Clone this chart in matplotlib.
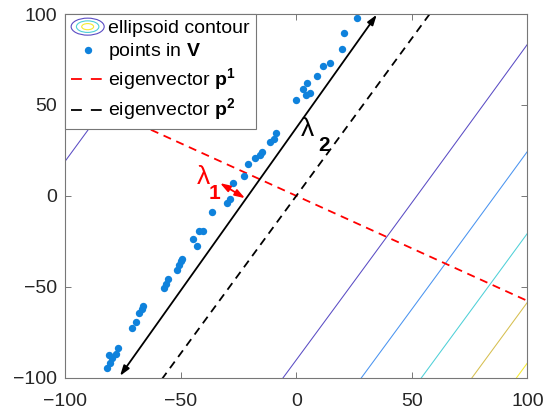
import numpy as np
import matplotlib
matplotlib.use('Agg')
import matplotlib.pyplot as plt
from matplotlib.patches import Ellipse
from matplotlib.legend_handler import HandlerBase
from matplotlib.lines import Line2D

plt.rcParams['font.family'] = ['Liberation Sans', 'DejaVu Sans']
plt.rcParams['mathtext.fontset'] = 'custom'
plt.rcParams['mathtext.rm'] = 'Liberation Sans'
plt.rcParams['mathtext.bf'] = 'Liberation Sans:bold'

# points in V
px = [-82.1, -80.6, -79.8, -81.1, -78.2, -77.1, -71.3, -69.5, -68.0, -66.9,
      -66.4, -57.3, -56.4, -55.4, -51.8, -50.9, -50.1, -49.3, -44.6, -42.9,
      -42.1, -40.3, -36.7, -30.1, -28.7, -27.3, -22.5, -21.1, -17.7, -15.7,
      -14.8, -11.2, -9.7, -8.8, -0.1, 2.9, 4.0, 4.8, 5.9, 8.8,
      11.7, 14.6, 19.6, 20.6, 26.4]
py = [-94.8, -91.9, -89.4, -87.5, -86.9, -83.8, -72.5, -69.2, -64.2, -62.2,
      -60.5, -50.6, -48.4, -45.9, -40.7, -38.0, -36.0, -34.7, -23.9, -27.6,
      -19.3, -19.5, -9.0, -4.1, -2.0, 6.9, 10.9, 17.4, 20.8, 22.5,
      23.9, 29.6, 31.3, 34.3, 52.7, 58.5, 55.5, 61.8, 56.6, 65.9,
      71.3, 73.2, 80.6, 89.7, 97.7]

# eigen directions (degrees) and ellipsoid parameters
theta_p1 = -30.0
theta_p2 = 60.0
ell_center_p1 = -25.5     # center along p1
ell_axis_p1 = 70.7        # semi-axis along p1 at level 1
ell_axis_p2 = 1500.0      # semi-axis along p2 at level 1
levels = [1, 2, 3, 4, 5]
level_colors = ['#5a4cc4', '#4a94f0', '#4fd0d8', '#d6bf50', '#f5ea30']

# arrows (lambda_1, lambda_2)
lam1_start, lam1_end = (-33.0, 7.0), (-22.2, -1.3)
lam2_start, lam2_end = (-76.3, -99.0), (34.8, 99.6)

ticks = [-100, -50, 0, 50, 100]

fig = plt.figure(figsize=(5.52, 4.12), dpi=100)
ax = fig.add_axes([0.1183, 0.0833, 0.837, 0.8827])

# ellipsoid contour
g = np.linspace(-110, 110, 700)
X, Y = np.meshgrid(g, g)
c1, s1 = np.cos(np.radians(theta_p1)), np.sin(np.radians(theta_p1))
c2, s2 = np.cos(np.radians(theta_p2)), np.sin(np.radians(theta_p2))
U = X*c1 + Y*s1
Vv = X*c2 + Y*s2
Q = ((U - ell_center_p1)/ell_axis_p1)**2 + (Vv/ell_axis_p2)**2
ax.contour(X, Y, Q, levels=levels, colors=level_colors, linewidths=0.75)

# eigenvector lines through origin
dash = (0, (4.5, 3.2))
t = np.array([-300, 300])
ax.plot(t*c1, t*s1, color='#ff0000', lw=1.3, ls=dash)
ax.plot(t*c2, t*s2, color='k', lw=1.3, ls=dash)

ax.plot(px, py, 'o', color='#0f82dc', ms=5.3, mec='none')

ax.annotate('', xy=lam2_end, xytext=lam2_start,
            arrowprops=dict(arrowstyle='<|-|>,head_length=0.6,head_width=0.2',
                            color='k', lw=1.3, shrinkA=0, shrinkB=0))
ax.annotate('', xy=lam1_end, xytext=lam1_start,
            arrowprops=dict(arrowstyle='<|-|>,head_length=0.6,head_width=0.2',
                            color='#ff0000', lw=1.3, shrinkA=0, shrinkB=0))

ax.text(-40.4, 10.2, 'λ', color='#ff0000', fontsize=19, ha='center', va='center')
ax.text(-35.4, 1.4, '1', color='#ff0000', fontsize=15, fontweight='bold', ha='center', va='center')
ax.text(4.8, 36.6, 'λ', color='k', fontsize=19, ha='center', va='center')
ax.text(11.9, 27.8, '2', color='k', fontsize=15, fontweight='bold', ha='center', va='center')

ax.set_xlim(-100, 100)
ax.set_ylim(-100, 100)
ax.set_xticks(ticks)
ax.set_yticks(ticks)
ax.tick_params(direction='in', length=4, width=0.7, color='#777777',
               labelsize=14, labelcolor='#262626', top=True, right=True)
ax.tick_params(axis='x', pad=11)
ax.tick_params(axis='y', pad=6)
for sp in ax.spines.values():
    sp.set_color('#777777')
    sp.set_linewidth(0.8)


class HandlerEllipses(HandlerBase):
    def create_artists(self, legend, orig_handle, xdescent, ydescent,
                       width, height, fontsize, trans):
        cx = width/2 - xdescent
        cy = height/2 - ydescent
        arts = []
        for s, col in [(1.0, '#5a4cc4'), (0.68, '#4fd0d8'), (0.36, '#f5ea30')]:
            arts.append(Ellipse((cx, cy), width*s, height*1.25*s, fill=False,
                                edgecolor=col, lw=0.8, transform=trans))
        return arts


h_ell = Line2D([], [])
h_pts = Line2D([], [], ls='none', marker='o', color='#0f82dc', ms=5.3, mec='none')
h_p1 = Line2D([], [], color='#ff0000', lw=1.3, ls=(0, (6, 5)))
h_p2 = Line2D([], [], color='k', lw=1.3, ls=(0, (6, 5)))
leg = ax.legend([h_ell, h_pts, h_p1, h_p2],
                ['ellipsoid contour', r'points in $\mathbf{V}$',
                 r'eigenvector $\mathbf{p}^\mathbf{1}$', r'eigenvector $\mathbf{p}^\mathbf{2}$'],
                handler_map={h_ell: HandlerEllipses()},
                loc='upper left', borderaxespad=0, fontsize=14, handlelength=1.7,
                handletextpad=0.2, borderpad=0.3, labelspacing=0.2,
                fancybox=False, framealpha=1, edgecolor='#777777')
leg.get_frame().set_linewidth(0.8)

fig.savefig('out.png', dpi=100)
